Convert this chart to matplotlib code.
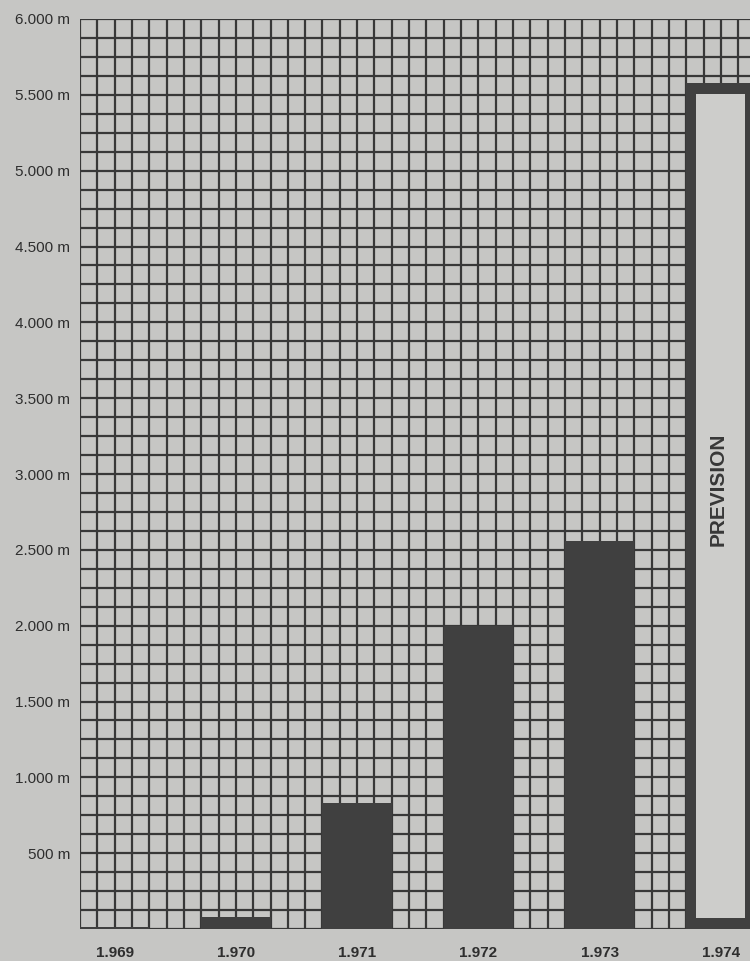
import matplotlib
matplotlib.use("Agg")
import matplotlib.pyplot as plt
import numpy as np

# ---- data ----
years = ["1.969", "1.970", "1.971", "1.972", "1.973", "1.974"]
metres = [15, 80, 830, 2000, 2560, 5580]
forecast = [False, False, False, False, False, True]
y_ticks = [500, 1000, 1500, 2000, 2500, 3000, 3500, 4000, 4500, 5000, 5500, 6000]
y_labels = ["500 m", "1.000 m", "1.500 m", "2.000 m", "2.500 m", "3.000 m",
            "3.500 m", "4.000 m", "4.500 m", "5.000 m", "5.500 m", "6.000 m"]
forecast_text = "PREVISION"

# ---- style ----
BG = "#c6c6c4"
INK = "#383838"
BAR = "#404040"
FONT = ["Liberation Sans", "DejaVu Sans"]
plt.rcParams["font.family"] = FONT

W, H = 750, 961
fig = plt.figure(figsize=(W / 100, H / 100), dpi=100, facecolor=BG)

col_px = 17.32
n_cols = 39.4
left_px, top_px, bottom_px = 80, 19, 929
ax = fig.add_axes([left_px / W, (H - bottom_px) / H,
                   n_cols * col_px / W, (bottom_px - top_px) / H])
ax.set_facecolor(BG)
ax.set_xlim(0, n_cols)
ax.set_ylim(0, 6000)

# grid (every column, every 125 m)
for xg in range(0, 40):
    ax.axvline(xg, color=INK, lw=1.6, zorder=1)
for yg in np.arange(0, 6001, 125):
    ax.axhline(yg, color=INK, lw=1.6, zorder=1)

# bars: each occupies 4 grid columns, spaced 7 columns apart
step, width = 7, 4
lefts = [i * step for i in range(len(years))]
centers = [l + width / 2 for l in lefts]
for l, v, f in zip(lefts, metres, forecast):
    ax.bar(l, v, width=width, align="edge", color=BAR, zorder=3, lw=0)
    if f:
        bx = 10 / col_px          # border thickness in columns
        by = 11 * 6000 / (bottom_px - top_px)  # border thickness in metres
        ax.bar(l + bx, v - 2 * by, bottom=by, width=width - 2 * bx,
               align="edge", color="#cdcdcb", zorder=4, lw=0)
        ax.text(l + width / 2 - 0.15, v * 0.52, forecast_text, rotation=90,
                ha="center", va="center", fontsize=15, fontweight="bold",
                color="#383838", zorder=5, family=FONT)

for s in ax.spines.values():
    s.set_visible(False)

ax.set_yticks(y_ticks)
ax.set_yticklabels(y_labels, fontsize=11, color="#2e2e2e")
ax.set_xticks(centers)
ax.set_xticklabels(years, fontsize=11, fontweight="bold", color="#2e2e2e")
ax.tick_params(axis="y", length=0, pad=7)
ax.tick_params(axis="x", length=0, pad=12)

fig.savefig("out.png", dpi=100, facecolor=BG)
